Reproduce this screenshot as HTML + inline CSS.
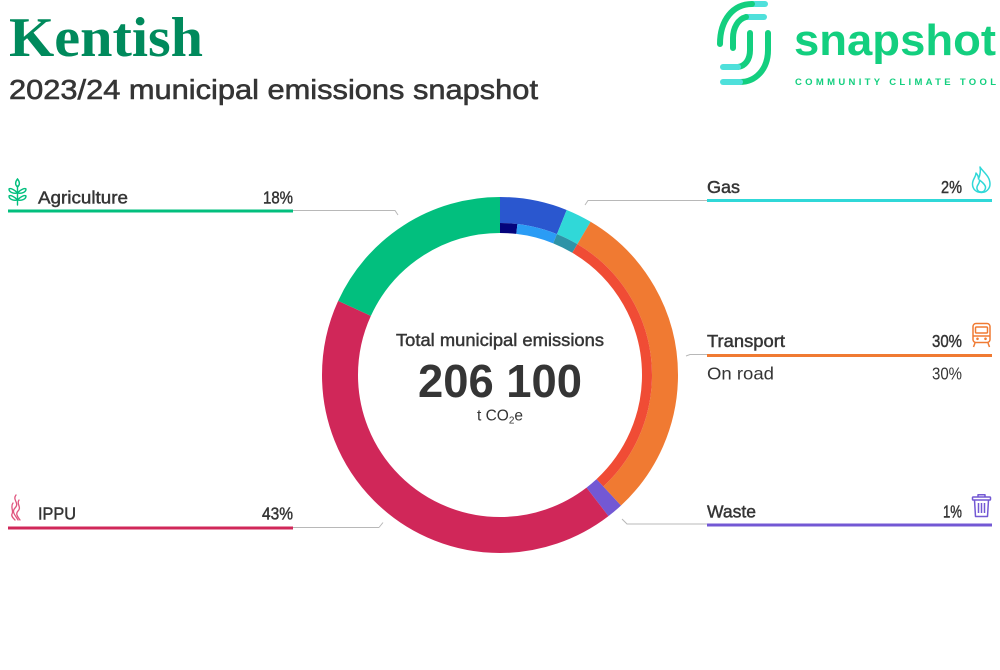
<!DOCTYPE html>
<html>
<head>
<meta charset="utf-8">
<style>
  html,body{margin:0;padding:0;background:#fff;}
  svg{display:block;}
  .t{font-family:"Liberation Sans",sans-serif;fill:#353535;}
  .med{stroke:#353535;stroke-width:0.45;}
</style>
</head>
<body>
<svg width="1000" height="670" viewBox="0 0 1000 670" xmlns="http://www.w3.org/2000/svg">
  <rect width="1000" height="670" fill="#fff"/>

  <!-- Title -->
  <text x="9" y="56" font-family="Liberation Serif, serif" font-weight="bold" font-size="56" fill="#008a5c" textLength="194" lengthAdjust="spacingAndGlyphs">Kentish</text>
  <text class="t" x="9" y="99" font-size="28" textLength="529" lengthAdjust="spacingAndGlyphs" stroke="#353535" stroke-width="0.6">2023/24 municipal emissions snapshot</text>

  <!-- Logo icon -->
  <g fill="none" stroke-width="6" stroke-linecap="round">
    <path d="M752 4 L765 4" stroke="#4fe0db"/>
    <path d="M752 4 C733 4, 720 20, 720 44" stroke="#13cf7f"/>
    <path d="M746 17 L764 17" stroke="#4fe0db"/>
    <path d="M746 17 C738 19, 733 28, 733 38 L733 48" stroke="#13cf7f"/>
    <path d="M750 33 L750 50 C750 60, 745 66, 738 67" stroke="#13cf7f"/>
    <path d="M738 67 L723 67" stroke="#4fe0db"/>
    <path d="M768 33 L768 50 C768 70, 755 82, 740 82" stroke="#13cf7f"/>
    <path d="M740 82 L723 82" stroke="#4fe0db"/>
  </g>
  <text x="794" y="55" font-family="Liberation Sans, sans-serif" font-weight="bold" font-size="44" fill="#13cf7f" textLength="202" lengthAdjust="spacingAndGlyphs">snapshot</text>
  <text x="795" y="85" font-family="Liberation Sans, sans-serif" font-weight="bold" font-size="9.5" fill="#13cf7f" textLength="201" lengthAdjust="spacing">COMMUNITY CLIMATE TOOL</text>

  <!-- Donut -->
  <g transform="rotate(-90 500 375)" fill="none">
    <circle cx="500" cy="375" r="160" stroke="#7358d4" stroke-width="36" stroke-dasharray="14.8 2000" stroke-dashoffset="-382.85"/>
    <circle cx="500" cy="375" r="160" stroke="#d02759" stroke-width="36" stroke-dasharray="424.74 2000" stroke-dashoffset="-397.65"/>
    <circle cx="500" cy="375" r="160" stroke="#02bf7e" stroke-width="36" stroke-dasharray="182.91 2000" stroke-dashoffset="-822.39"/>
    <circle cx="500" cy="375" r="165" stroke="#2a57cf" stroke-width="26" stroke-dasharray="63.36 2000" stroke-dashoffset="0"/>
    <circle cx="500" cy="375" r="165" stroke="#30d8d8" stroke-width="26" stroke-dasharray="24.77 2000" stroke-dashoffset="-63.36"/>
    <circle cx="500" cy="375" r="165" stroke="#f07a32" stroke-width="26" stroke-dasharray="306.7 2000" stroke-dashoffset="-88.12"/>
    <circle cx="500" cy="375" r="147" stroke="#04047c" stroke-width="10" stroke-dasharray="16.93 2000" stroke-dashoffset="0"/>
    <circle cx="500" cy="375" r="147" stroke="#2a9cf5" stroke-width="10" stroke-dasharray="39.51 2000" stroke-dashoffset="-16.93"/>
    <circle cx="500" cy="375" r="147" stroke="#2e93a7" stroke-width="10" stroke-dasharray="22.06 2000" stroke-dashoffset="-56.44"/>
    <circle cx="500" cy="375" r="147" stroke="#f04c35" stroke-width="10" stroke-dasharray="273.24 2000" stroke-dashoffset="-78.51"/>
  </g>

  <!-- Center text -->
  <text class="t med" x="500" y="346" font-size="17.5" text-anchor="middle" textLength="208" lengthAdjust="spacingAndGlyphs">Total municipal emissions</text>
  <text class="t" x="500" y="397" font-size="46" font-weight="bold" text-anchor="middle" textLength="164" lengthAdjust="spacingAndGlyphs">206 100</text>
  <text class="t" x="500" y="420.5" font-size="15.5" text-anchor="middle">t CO<tspan font-size="10" dy="3">2</tspan><tspan dy="-3">e</tspan></text>

  <!-- Leader lines -->
  <g fill="none" stroke="#b8b8b8" stroke-width="1">
    <polyline points="293,210.5 395,210.5 398,215"/>
    <polyline points="379,527.5 383,522.5"/>
    <line x1="293" y1="527.5" x2="379" y2="527.5"/>
    <polyline points="585,205 588,200.5 707,200.5"/>
    <polyline points="686,356 690,354.5 707,354.5"/>
    <polyline points="622,519 627,524 707,524"/>
  </g>

  <!-- Colored legend lines -->
  <rect x="8" y="209.5" width="285" height="3" fill="#02bf7e"/>
  <rect x="8" y="526.5" width="285" height="3" fill="#d02759"/>
  <rect x="707" y="199" width="285" height="3" fill="#30d8d8"/>
  <rect x="707" y="354" width="285" height="3" fill="#f07a32"/>
  <rect x="707" y="523.5" width="285" height="3" fill="#7358d4"/>

  <!-- Legend text -->
  <text class="t med" x="38" y="203.5" font-size="17.5" textLength="90" lengthAdjust="spacingAndGlyphs">Agriculture</text>
  <text class="t med" x="293" y="203.5" font-size="17.5" text-anchor="end" textLength="30" lengthAdjust="spacingAndGlyphs">18%</text>

  <text class="t med" x="38" y="519.5" font-size="17.5" textLength="38" lengthAdjust="spacingAndGlyphs">IPPU</text>
  <text class="t med" x="293" y="519.5" font-size="17.5" text-anchor="end" textLength="31" lengthAdjust="spacingAndGlyphs">43%</text>

  <text class="t med" x="707" y="193" font-size="17.5" textLength="33" lengthAdjust="spacingAndGlyphs">Gas</text>
  <text class="t med" x="962" y="193" font-size="17.5" text-anchor="end" textLength="21" lengthAdjust="spacingAndGlyphs">2%</text>

  <text class="t med" x="707" y="347" font-size="17.5" textLength="78" lengthAdjust="spacingAndGlyphs">Transport</text>
  <text class="t med" x="962" y="347" font-size="17.5" text-anchor="end" textLength="30" lengthAdjust="spacingAndGlyphs">30%</text>
  <text class="t" x="707" y="379.5" font-size="17.5" fill="#444" textLength="67" lengthAdjust="spacingAndGlyphs">On road</text>
  <text class="t" x="962" y="379.5" font-size="17.5" fill="#444" text-anchor="end" textLength="30" lengthAdjust="spacingAndGlyphs">30%</text>

  <text class="t med" x="707" y="517.5" font-size="17.5" textLength="49" lengthAdjust="spacingAndGlyphs">Waste</text>
  <text class="t med" x="962" y="517.5" font-size="17.5" text-anchor="end" textLength="19" lengthAdjust="spacingAndGlyphs">1%</text>

  <!-- Agriculture icon (wheat) -->
  <g fill="none" stroke="#02bf7e" stroke-width="1.4" stroke-linecap="round">
    <path d="M17.5 186 L17.5 205"/>
    <path d="M17.5 179 C15 182, 15 185, 17.5 187 C20 185, 20 182, 17.5 179 Z"/>
    <path d="M17.5 193 C14 189, 10 188, 9 189 C9 192, 13 194, 17.5 193 Z"/>
    <path d="M17.5 193 C21 189, 25 188, 26 189 C26 192, 22 194, 17.5 193 Z"/>
    <path d="M17.5 200 C14 196, 10 195, 9 196 C9 199, 13 201, 17.5 200 Z"/>
    <path d="M17.5 200 C21 196, 25 195, 26 196 C26 199, 22 201, 17.5 200 Z"/>
  </g>

  <!-- IPPU icon -->
  <g fill="none" stroke="#e0557e" stroke-width="1.3" stroke-linecap="round">
    <path d="M16 495 C12 500, 20 503, 15 508 C11 512, 16 516, 18 520"/>
    <path d="M19 500 C16 504, 22 507, 18 511 C15 514, 18 517, 20 520"/>
    <path d="M13 503 C10 507, 14 511, 12 514 C11 516, 13 518, 15 520"/>
  </g>

  <!-- Gas icon (flame) -->
  <g fill="none" stroke="#30d8d8" stroke-width="1.5" stroke-linejoin="round">
    <path d="M980 167 C983 172, 990 176, 990 184 C990 189, 986 192.5, 981.5 192.5 C976 192.5, 972.5 189, 972.5 184 C972.5 179, 976 177, 976 173 C978 175, 978.5 177, 978.5 179 C980 175, 981 171, 980 167 Z"/>
    <path d="M981.5 192 C978 192, 976.5 189.5, 977 187 C977.5 184.5, 980 183, 979.5 180 C982 182, 986 185, 985.5 188 C985 190.5, 983.5 192, 981.5 192 Z"/>
  </g>

  <!-- Transport icon (train) -->
  <g fill="none" stroke="#f07a32" stroke-width="1.5">
    <rect x="973" y="323.5" width="17" height="19" rx="3"/>
    <rect x="975.5" y="327" width="12" height="6" rx="1"/>
    <line x1="973" y1="336" x2="990" y2="336"/>
    <path d="M975 343 L973.5 347 M988 343 L989.5 347"/>
  </g>
  <circle cx="977.5" cy="338.8" r="1.3" fill="#f07a32"/>
  <circle cx="985.5" cy="338.8" r="1.3" fill="#f07a32"/>

  <!-- Waste icon (trash) -->
  <g fill="none" stroke="#7358d4" stroke-width="1.5" stroke-linejoin="round">
    <path d="M978 497 L978 494.8 L985 494.8 L985 497"/>
    <rect x="972.5" y="497" width="18" height="3" rx="0.8"/>
    <path d="M974.5 500 L975.5 516.5 L987.5 516.5 L988.5 500"/>
    <path d="M978.5 503 L978.5 513 M981.5 503 L981.5 513 M984.5 503 L984.5 513"/>
  </g>
</svg>
</body>
</html>
